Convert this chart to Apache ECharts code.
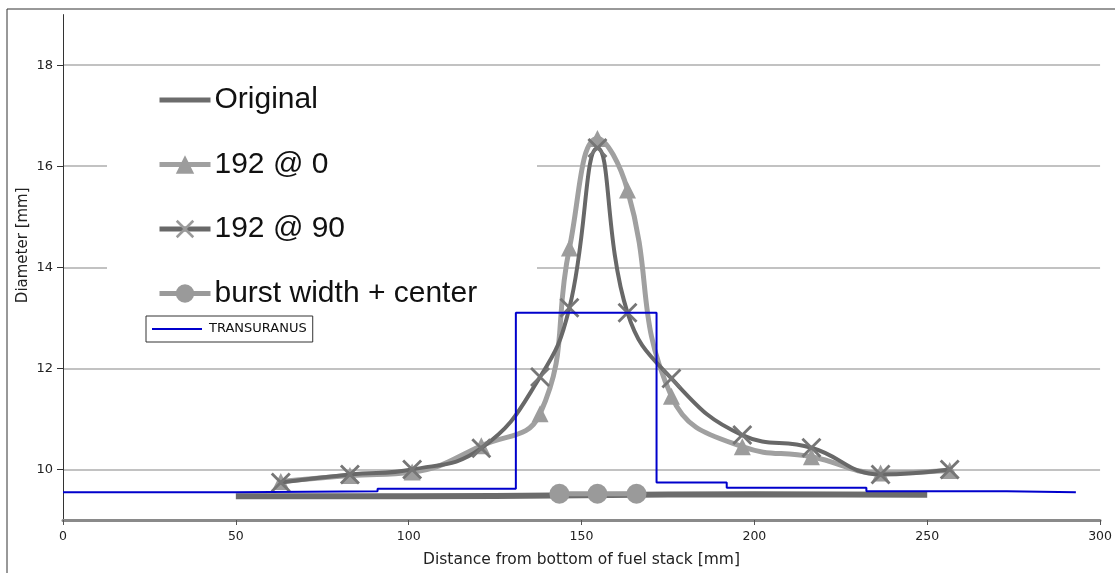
<!DOCTYPE html>
<html>
<head>
<meta charset="utf-8">
<script src="https://cdn.jsdelivr.net/npm/echarts@6/dist/echarts.min.js"></script>
<style>
  html, body { margin: 0; padding: 0; background: #fff; }
  #app { width: 1115px; height: 573px; }
</style>
</head>
<body>
<div id="app"></div>
<script>
// measured profile positions [mm] and diameters [mm]
const xOriginal = [50, 100, 150, 200, 250];
const yOriginal = [9.47, 9.47, 9.49, 9.51, 9.5];

const xBurst = [143.6, 154.6, 165.9];
const yBurst = [9.52, 9.52, 9.52];

const xMeasured = [63, 83, 101, 121, 138, 146.5, 154.6, 163.3, 176, 196.5, 216.5, 236.5, 256.5];
const y192at0 = [9.76, 9.88, 9.95, 10.47, 11.1, 14.38, 16.55, 15.53, 11.45, 10.45, 10.25, 9.93, 9.98];
const y192at90 = [9.74, 9.9, 10.0, 10.42, 11.83, 13.2, 16.36, 13.1, 11.8, 10.68, 10.43, 9.9, 10.0];

// TRANSURANUS axial slices (step boundaries)
const xTransuranus = [0, 50, 91, 131, 171.7, 192, 232.4, 273, 293];
const yTransuranus = [9.55, 9.57, 9.62, 13.1, 9.74, 9.64, 9.57, 9.55, 9.55];

const yLabelValues = [10, 12, 14, 16, 18];

const zip = (xs, ys) => xs.map((x, i) => [x, ys[i]]);

const CROSS = "path://M0,1L1,0L10,9L9,10Z M9,0L10,1L1,10L0,9Z";
const BAR = "path://M0,0H51V5H0Z";
const THIN_BAR = "path://M0,0H50V2H0Z";

var chart = echarts.init(document.getElementById("app"));

chart.setOption({
  backgroundColor: "#fff",
  animation: false,
  grid: { left: 63, right: 14, top: 14.6, bottom: 52 },
  legend: [
    {
      data: [
        { name: "Original", icon: BAR },
        { name: "192 @ 0" },
        { name: "192 @ 90", itemStyle: { color: "#9a9a9a" } },
        { name: "burst width + center" }
      ],
      orient: "vertical",
      left: 157,
      top: 85,
      itemWidth: 51,
      itemHeight: 23,
      itemGap: 34.5,
      padding: 0,
      symbolKeepAspect: true,
      selectedMode: false,
      lineStyle: { width: 5 },
      textStyle: {
        fontFamily: "Liberation Sans, Arial, sans-serif",
        fontSize: 30,
        color: "#111",
        padding: [0, 0, 0, -1]
      }
    },
    {
      data: [{ name: "TRANSURANUS", icon: THIN_BAR }],
      left: 146,
      top: 316,
      itemWidth: 50,
      itemHeight: 14,
      padding: [6.5, 6, 6.5, 6],
      itemGap: 0,
      symbolKeepAspect: true,
      selectedMode: false,
      borderColor: "#333",
      borderWidth: 1,
      borderRadius: 0,
      textStyle: {
        fontFamily: "DejaVu Sans, sans-serif",
        fontSize: 13,
        color: "#111",
        padding: [0, 0, 0, 2]
      }
    }
  ],
  graphic: [
    // frame round the figure
    { type: "line", shape: { x1: 7, y1: 9, x2: 1115, y2: 9 }, style: { stroke: "#333", lineWidth: 1 } },
    { type: "line", shape: { x1: 7, y1: 9, x2: 7, y2: 573 }, style: { stroke: "#333", lineWidth: 1 } },
    // white background of the pasted legend
    { type: "rect", z: 1, shape: { x: 107, y: 78, width: 430, height: 270 }, style: { fill: "#fff" } }
  ],
  xAxis: {
    type: "value",
    min: 0,
    max: 300,
    interval: 50,
    name: "Distance from bottom of fuel stack [mm]",
    nameLocation: "middle",
    nameGap: 32,
    nameTextStyle: {
      fontFamily: "DejaVu Sans, sans-serif",
      fontSize: 15.5,
      color: "#222"
    },
    splitLine: { show: false },
    axisLine: { lineStyle: { color: "#8a8a8a", width: 3 } },
    axisTick: { length: 5, lineStyle: { color: "#555" } },
    axisLabel: {
      margin: 10,
      fontFamily: "DejaVu Sans, sans-serif",
      fontSize: 12.5,
      color: "#222"
    }
  },
  yAxis: {
    type: "value",
    min: 9,
    max: 19,
    interval: 1,
    name: "Diameter [mm]",
    nameLocation: "middle",
    nameGap: 32,
    nameMoveOverlap: false,
    nameTextStyle: {
      fontFamily: "DejaVu Sans, sans-serif",
      fontSize: 15,
      color: "#222",
      padding: [0, 0, 0, 44]
    },
    axisLine: { show: true, lineStyle: { color: "#333", width: 1 } },
    axisTick: { show: true, length: 6, customValues: yLabelValues, lineStyle: { color: "#333" } },
    axisLabel: {
      customValues: yLabelValues,
      margin: 10,
      fontFamily: "DejaVu Sans, sans-serif",
      fontSize: 13,
      color: "#222"
    },
    splitLine: { show: true, lineStyle: { color: "#c2c2c2", width: 2 } }
  },
  series: [
    {
      name: "Original",
      type: "line",
      data: zip(xOriginal, yOriginal),
      symbol: "none",
      smooth: true,
      lineStyle: { color: "#6c6c6c", width: 6 },
      itemStyle: { color: "#6c6c6c" },
      z: 2
    },
    {
      name: "burst width + center",
      type: "line",
      data: zip(xBurst, yBurst),
      symbol: "circle",
      symbolSize: 20,
      lineStyle: { color: "#9a9a9a", width: 5 },
      itemStyle: { color: "#9a9a9a" },
      z: 3
    },
    {
      name: "192 @ 0",
      type: "line",
      data: zip(xMeasured, y192at0),
      smooth: 0.45,
      symbol: "triangle",
      symbolSize: 17,
      lineStyle: { color: "#a0a0a0", width: 5 },
      itemStyle: { color: "#9c9c9c" },
      z: 4
    },
    {
      name: "192 @ 90",
      type: "line",
      data: zip(xMeasured, y192at90),
      smooth: 0.45,
      symbol: CROSS,
      symbolSize: 20,
      lineStyle: { color: "#686868", width: 4 },
      itemStyle: { color: "#767676" },
      z: 5
    },
    {
      name: "TRANSURANUS",
      type: "line",
      data: zip(xTransuranus, yTransuranus),
      step: "end",
      symbol: "none",
      lineStyle: { color: "#0000cc", width: 2 },
      itemStyle: { color: "#0000cc" },
      z: 6
    }
  ]
});

window.onresize = function() {
  chart.resize();
};
</script>
</body>
</html>
